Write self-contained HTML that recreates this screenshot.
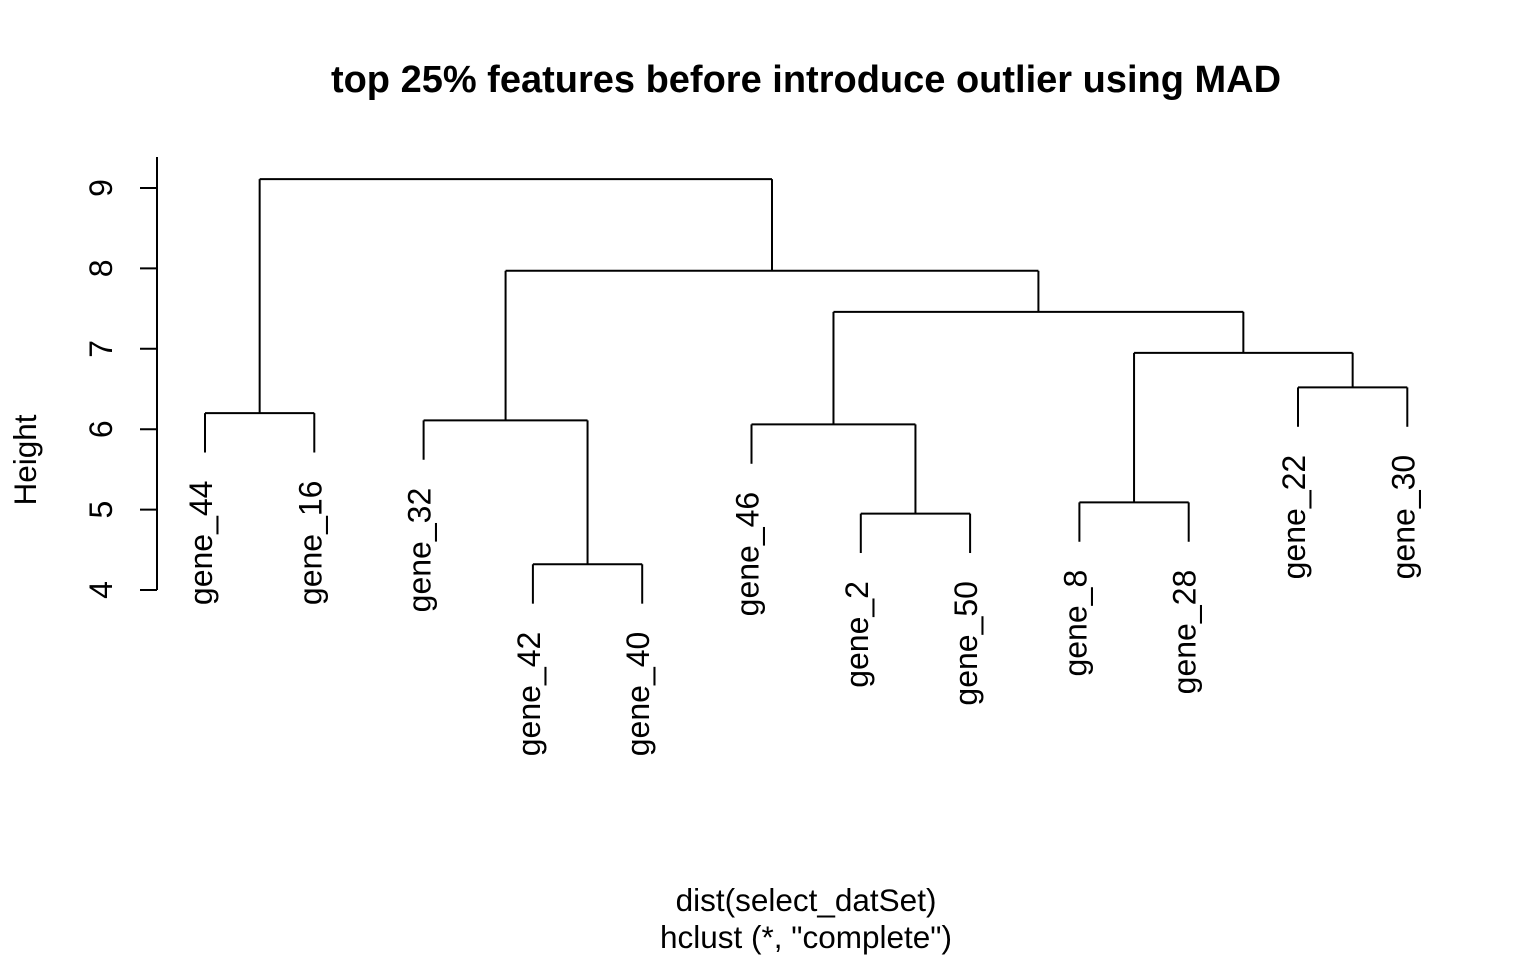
<!DOCTYPE html>
<html><head><meta charset="utf-8"><style>body{margin:0;background:#fff}svg{display:block}text{font-family:"Liberation Sans",Arial,sans-serif;fill:#000}</style></head>
<body>
<svg id="c" width="1536" height="960" xmlns="http://www.w3.org/2000/svg">
<text x="806" y="92" text-anchor="middle" font-size="38" font-weight="bold">top 25% features before introduce outlier using MAD</text>
<text x="806" y="911" text-anchor="middle" font-size="31.5">dist(select_datSet)</text>
<text x="806" y="948" text-anchor="middle" font-size="31.5">hclust (*, "complete")</text>
<text transform="translate(36,460) rotate(-90)" text-anchor="middle" font-size="31.5">Height</text>
<g id="ax"></g><g id="tree"></g><g id="lab"></g>
</svg>
<script>
const ticks=[4,5,6,7,8,9];
const leaves=["gene_44","gene_16","gene_32","gene_42","gene_40","gene_46","gene_2","gene_50","gene_8","gene_28","gene_22","gene_30"];
// merges: negative = leaf index (1-based), positive = merge index (1-based)
const mergeLeft=[-1,-4,-3,-7,-6,-9,-11,6,5,3,1];
const mergeRight=[-2,-5,2,-8,4,-10,-12,7,8,9,10];
const mergeHeight=[6.20,4.32,6.11,4.95,6.06,5.09,6.52,6.95,7.46,7.97,9.11];
const hang=0.49;
const NS="http://www.w3.org/2000/svg";
const y=v=>590-(v-4)*80.4;
const x=i=>205+i*109.3;
function ln(g,x1,y1,x2,y2,name){const l=document.createElementNS(NS,"line");
l.setAttribute("x1",x1);l.setAttribute("y1",y1);l.setAttribute("x2",x2);l.setAttribute("y2",y2);
l.setAttribute("stroke","#000");l.setAttribute("stroke-width","2");


g.appendChild(l);}
const ax=document.getElementById("ax");
ln(ax,157,157,157,y(4),"y-axis-line");
ticks.forEach(t=>{ln(ax,140,y(t),157,y(t),"y-tick");
const tx=document.createElementNS(NS,"text");tx.setAttribute("transform",`translate(112,${y(t)}) rotate(-90)`);
tx.setAttribute("text-anchor","middle");tx.setAttribute("font-size","32");tx.textContent=t;


ax.appendChild(tx);});
const tree=document.getElementById("tree"),lab=document.getElementById("lab");
const pos=[];
function node(k){if(k<0){return {x:x(-k-1),h:null,leaf:-k-1};}return {x:pos[k-1],h:mergeHeight[k-1]};}
mergeLeft.forEach((a,i)=>{const h=mergeHeight[i];const L=node(a),R=node(mergeRight[i]);
[L,R].forEach(n=>{let bot;if(n.h===null){bot=y(h-hang);
const tx=document.createElementNS(NS,"text");tx.setAttribute("transform",`translate(${n.x+7},${bot+28}) rotate(-90)`);
tx.setAttribute("text-anchor","end");tx.setAttribute("font-size","32");tx.textContent=leaves[n.leaf];


lab.appendChild(tx);}else bot=y(n.h);
ln(tree,n.x,y(h),n.x,bot,"branch-vertical");});
ln(tree,L.x,y(h),R.x,y(h),"branch-horizontal");
pos.push((L.x+R.x)/2);});
</script>
</body></html>
